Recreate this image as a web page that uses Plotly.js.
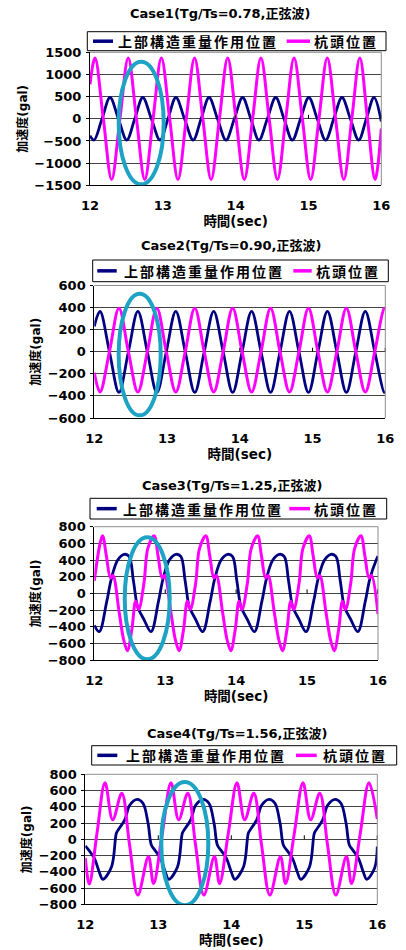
<!DOCTYPE html>
<html><head><meta charset="utf-8">
<script src="https://cdn.plot.ly/plotly-3.0.1.min.js"></script>
<style>
html,body{margin:0;padding:0;background:#fff;}
#chart{width:406px;height:950px;}
.annotation[data-index="0"] text,.annotation[data-index="1"] text,.annotation[data-index="2"] text,.annotation[data-index="3"] text,
.annotation[data-index="4"] text,.annotation[data-index="5"] text,.annotation[data-index="6"] text,.annotation[data-index="7"] text{letter-spacing:2px;}
</style></head>
<body><div id="chart"></div>
<script>
// ---------- data ----------
const timeTicks = [12, 13, 14, 15, 16];
const seriesNames = ['上部構造重量作用位置', '杭頭位置'];
const caseTitles = ['Case1(Tg/Ts=0.78,正弦波)', 'Case2(Tg/Ts=0.90,正弦波)', 'Case3(Tg/Ts=1.25,正弦波)', 'Case4(Tg/Ts=1.56,正弦波)'];
const xTitle = '時間(sec)';
const yTitle = '加速度(gal)';
const yRanges = [[-1500, 1500], [-600, 600], [-800, 800], [-800, 800]];
const yDticks = [500, 200, 200, 200];

// Case 1
const case1SuperT = [12.000,12.055,12.165,12.275,12.390,12.505,12.615,12.725,12.843,12.962,13.071,13.180,13.298,13.417,13.526,13.635,13.751,13.868,13.982,14.095,14.208,14.320,14.435,14.550,14.664,14.778,14.891,15.005,15.120,15.235,15.347,15.460,15.575,15.690,15.795,15.900,16.000];
const case1SuperA = [-380,-480,0,480,0,-480,0,480,0,-480,0,480,0,-480,0,480,0,-480,0,480,0,-480,0,480,0,-480,0,480,0,-480,0,480,0,-480,0,480,-60];
const case1PileT = [12.000,12.069,12.183,12.297,12.411,12.525,12.638,12.752,12.866,12.980,13.094,13.208,13.322,13.436,13.549,13.663,13.777,13.891,14.005,14.119,14.233,14.347,14.460,14.574,14.688,14.802,14.916,15.030,15.144,15.258,15.372,15.485,15.595,15.705,15.810,15.915,16.000];
const case1PileA = [780,1370,0,-1370,0,1370,0,-1370,0,1370,0,-1370,0,1370,0,-1370,0,1370,0,-1370,0,1370,0,-1370,0,1370,0,-1370,0,1370,0,-1370,0,1370,0,-1370,-220];

// Case 2
const case2T = [12.000,12.078,12.208,12.339,12.469,12.599,12.729,12.860,12.990,13.120,13.250,13.381,13.511,13.641,13.771,13.902,14.032,14.162,14.292,14.423,14.553,14.683,14.813,14.944,15.074,15.204,15.334,15.465,15.595,15.725,15.855,15.985,16.000];
const case2SuperA = [230,365,0,-368,0,365,0,-368,0,365,0,-368,0,365,0,-368,0,365,0,-368,0,365,0,-368,0,365,0,-368,0,365,0,-368,-362];
const case2PileA = [-190,-365,0,393,0,-365,0,393,0,-365,0,393,0,-365,0,393,0,-365,0,393,0,-365,0,393,0,-365,0,393,0,-365,0,393,390];

// Case 3
const case3SuperT = [12.000,12.070,12.175,12.240,12.330,12.420,12.490,12.550,12.600,12.620,12.695,12.799,12.904,12.969,13.059,13.149,13.219,13.279,13.329,13.349,13.424,13.528,13.633,13.698,13.788,13.878,13.948,14.008,14.058,14.078,14.153,14.257,14.362,14.427,14.517,14.607,14.677,14.737,14.787,14.807,14.882,14.986,15.091,15.156,15.246,15.336,15.406,15.466,15.516,15.536,15.611,15.715,15.820,15.885,15.975,16.000];
const case3SuperA = [-384,-460,-100,175,400,468,445,160,-130,-185,-305,-460,-100,175,400,468,445,160,-130,-185,-305,-460,-100,175,400,468,445,160,-130,-185,-305,-460,-100,175,400,468,445,160,-130,-185,-305,-460,-100,175,400,468,445,160,-130,-185,-305,-460,-100,175,400,445];
const case3PileT = [12.000,12.115,12.170,12.228,12.263,12.350,12.415,12.467,12.530,12.583,12.625,12.700,12.755,12.844,12.899,12.957,12.992,13.079,13.144,13.196,13.259,13.312,13.354,13.429,13.484,13.573,13.628,13.686,13.721,13.808,13.873,13.925,13.988,14.041,14.083,14.158,14.213,14.302,14.357,14.415,14.450,14.537,14.602,14.654,14.717,14.770,14.812,14.887,14.942,15.031,15.086,15.144,15.179,15.266,15.331,15.383,15.446,15.499,15.541,15.616,15.671,15.760,15.815,15.873,15.908,16.000];
const case3PileA = [150,690,450,185,215,-224,-560,-688,-430,-95,-195,120,540,690,450,185,215,-224,-560,-688,-430,-95,-195,120,540,690,450,185,215,-224,-560,-688,-430,-95,-195,120,540,690,450,185,215,-224,-560,-688,-430,-95,-195,120,540,690,450,185,215,-224,-560,-688,-430,-95,-195,120,540,690,450,185,215,-250];

// Case 4
const case4SuperT = [12.000,12.045,12.125,12.190,12.240,12.360,12.425,12.450,12.540,12.610,12.710,12.790,12.860,12.905,12.950,13.030,13.095,13.144,13.264,13.329,13.354,13.444,13.514,13.614,13.694,13.764,13.809,13.854,13.934,13.999,14.048,14.168,14.233,14.258,14.348,14.418,14.518,14.598,14.668,14.713,14.758,14.838,14.903,14.952,15.072,15.137,15.162,15.252,15.322,15.422,15.502,15.572,15.617,15.662,15.742,15.807,15.856,15.965,16.000];
const case4SuperA = [-80,-130,-234,-400,-492,-337,74,114,238,422,492,443,197,-70,-130,-234,-400,-492,-337,74,114,238,422,492,443,197,-70,-130,-234,-400,-492,-337,74,114,238,422,492,443,197,-70,-130,-234,-400,-492,-337,74,114,238,422,492,443,197,-70,-130,-234,-400,-492,-350,-90];
const case4PileT = [12.000,12.055,12.160,12.270,12.375,12.500,12.605,12.720,12.865,12.935,13.055,13.174,13.279,13.404,13.509,13.624,13.769,13.839,13.959,14.078,14.183,14.308,14.413,14.528,14.673,14.743,14.863,14.982,15.087,15.212,15.317,15.432,15.577,15.647,15.767,15.886,16.000];
const case4PileA = [-230,-550,75,697,240,568,-60,-686,-212,-545,75,697,240,568,-60,-686,-212,-545,75,697,240,568,-60,-686,-212,-545,75,697,240,568,-60,-686,-212,-545,75,697,250];

// highlighted windows (ellipses) in data units: [t0, t1, a0, a1]
const highlightWindows = [[12.394, 13.012, -1478, 1288], [12.335, 12.913, -576, 525], [12.429, 13.063, -792, 672], [13.041, 13.685, -812, 705]];

// ---------- layout geometry (pixels) ----------
const W = 406, H = 950;
const px = v => v / W, py = v => 1 - v / H;
const FONT = '"DejaVu Sans", "Noto Sans CJK JP", sans-serif';
const CJK = '"Noto Sans CJK JP", "DejaVu Sans", sans-serif';
const BLUE = '#000080', MAG = '#FF00FF', TEAL = '#1FA3C5';

const panels = [
  {plot: [90, 52.3, 381.3, 185.3], title: [220.7, 13.7], box: [87.3, 31.7, 386, 50.7], items: [[93, 113, 117], [286.7, 310, 313.3]]},
  {plot: [94.3, 285.5, 385.3, 418], title: [231, 246], box: [92.7, 260, 388.3, 281.7], items: [[97.3, 116.7, 123.3], [293.3, 311.7, 315]]},
  {plot: [94.3, 526.7, 378, 660], title: [232.5, 486], box: [90, 498.3, 386.7, 519], items: [[96.7, 116.7, 121.7], [289.3, 310, 313.3]]},
  {plot: [85.3, 774.3, 377.3, 904.3], title: [238, 733], box: [91.7, 745.7, 396.7, 765], items: [[97.3, 117.3, 125], [296, 316.7, 321.7]]}
];
const seriesData = [
  [case1SuperT, case1SuperA, case1PileT, case1PileA],
  [case2T, case2SuperA, case2T, case2PileA],
  [case3SuperT, case3SuperA, case3PileT, case3PileA],
  [case4SuperT, case4SuperA, case4PileT, case4PileA]
];

const traces = [];
const shapes = [];
const legendAnn = [];
const otherAnn = [];
const layout = {
  width: W, height: H, autosize: false,
  margin: {l: 0, r: 0, t: 0, b: 0},
  paper_bgcolor: '#fff', plot_bgcolor: '#fff',
  showlegend: false,
  font: {family: FONT, color: '#000'}
};

const tickFont = {family: FONT, size: 13, color: '#000', weight: 'bold'};

panels.forEach((p, i) => {
  const n = i === 0 ? '' : String(i + 1);
  const xa = 'x' + n, ya = 'y' + n;
  const [st, sa, pt, pa] = seriesData[i];
  traces.push({x: st, y: sa, xaxis: xa, yaxis: ya, type: 'scatter', mode: 'lines', name: seriesNames[0],
    line: {color: BLUE, width: 2.8, shape: 'spline', smoothing: 1}, hoverinfo: 'skip'});
  traces.push({x: pt, y: pa, xaxis: xa, yaxis: ya, type: 'scatter', mode: 'lines', name: seriesNames[1],
    line: {color: MAG, width: 3, shape: 'spline', smoothing: 1}, hoverinfo: 'skip'});

  layout['xaxis' + n] = {
    domain: [px(p.plot[0]), px(p.plot[2])], range: [12, 16], anchor: ya,
    tickmode: 'array', tickvals: timeTicks, ticks: '', showgrid: false, zeroline: false,
    showline: true, linecolor: '#000', linewidth: 1,
    tickfont: tickFont, ticklabelstandoff: 8,
    title: {text: xTitle, font: {family: FONT, size: 13.5, color: '#000', weight: 'bold'}, standoff: 2},
    fixedrange: true
  };
  layout['yaxis' + n] = {
    domain: [py(p.plot[3]), py(p.plot[1])], range: yRanges[i], anchor: xa,
    tick0: 0, dtick: yDticks[i], ticks: 'outside', ticklen: 3, tickcolor: '#000', tickwidth: 1,
    showgrid: true, gridcolor: '#444', gridwidth: 1, zeroline: false,
    showline: true, linecolor: '#000', linewidth: 1,
    tickfont: tickFont, ticklabelstandoff: 2,
    title: {text: yTitle, font: {family: FONT, size: 12, color: '#000', weight: 'bold'}, standoff: 4},
    fixedrange: true
  };

  // gray top / right plot-area border
  shapes.push({type: 'line', xref: xa + ' domain', yref: ya + ' domain', x0: 0, x1: 1, y0: 1, y1: 1, line: {color: '#8c8c8c', width: 1}});
  shapes.push({type: 'line', xref: xa + ' domain', yref: ya + ' domain', x0: 1, x1: 1, y0: 0, y1: 1, line: {color: '#8c8c8c', width: 1}});
  // small tick marks on the zero line
  timeTicks.slice(1).forEach(t => {
    shapes.push({type: 'line', xref: xa, yref: ya, ysizemode: 'pixel', yanchor: 0, x0: t, x1: t, y0: 0, y1: 4, line: {color: '#000', width: 1}});
  });
  // highlight ellipse
  const hw = highlightWindows[i];
  shapes.push({type: 'circle', xref: xa, yref: ya, x0: hw[0], x1: hw[1], y0: hw[2], y1: hw[3], line: {color: TEAL, width: 4}, fillcolor: 'rgba(0,0,0,0)', layer: 'above'});

  // legend box
  const b = p.box;
  const cy = (b[1] + b[3]) / 2;
  shapes.push({type: 'rect', xref: 'paper', yref: 'paper', x0: px(b[0]), x1: px(b[2]), y0: py(b[3]), y1: py(b[1]), line: {color: '#000', width: 1}, fillcolor: 'rgba(0,0,0,0)'});
  [BLUE, MAG].forEach((c, k) => {
    const it = p.items[k];
    shapes.push({type: 'line', xref: 'paper', yref: 'paper', x0: px(it[0]), x1: px(it[1]), y0: py(cy), y1: py(cy), line: {color: c, width: 3.5}});
    legendAnn.push({xref: 'paper', yref: 'paper', x: px(it[2]), y: py(cy), xanchor: 'left', yanchor: 'middle', align: 'left',
      text: seriesNames[k], showarrow: false, borderpad: 0, font: {family: CJK, size: 14, color: '#000', weight: 'bold'}});
  });
  // subplot title
  otherAnn.push({xref: 'paper', yref: 'paper', x: px(p.title[0]), y: py(p.title[1]), xanchor: 'center', yanchor: 'middle',
    text: caseTitles[i], showarrow: false, font: {family: FONT, size: 13, color: '#000', weight: 'bold'}});
});

layout.shapes = shapes;
layout.annotations = legendAnn.concat(otherAnn);

Plotly.newPlot('chart', traces, layout, {staticPlot: true, displayModeBar: false});
</script>
</body></html>
